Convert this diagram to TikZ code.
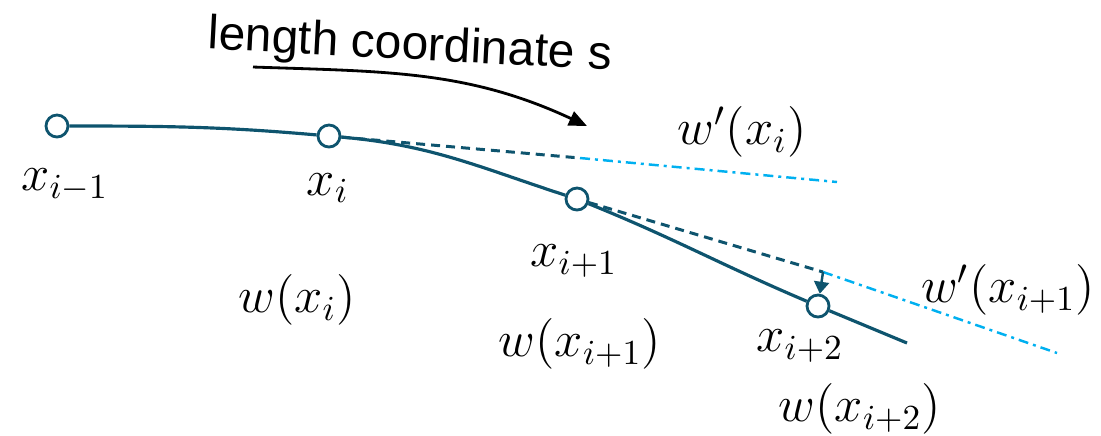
\documentclass[tikz,border=0pt]{standalone}
\usepackage{fontspec}
\setsansfont{Liberation Sans}
\usetikzlibrary{arrows.meta}
\definecolor{beam}{RGB}{14,84,110}
\definecolor{tang}{RGB}{0,176,240}

\begin{document}
\begin{tikzpicture}[x=0.01cm,y=0.01cm,
  gp/.style={circle,draw=beam,fill=white,line width=0.8pt,minimum size=0.22cm,inner sep=0pt},
  lab/.style={font=\fontsize{14.4}{17}\selectfont},
  approx/.style={beam,line width=0.85pt,dash pattern=on 0.09cm off 0.06cm},
  extra/.style={tang,line width=0.7pt,dash pattern=on 0.1cm off 0.05cm on 0.03cm off 0.05cm}]
\useasboundingbox (0,0) rectangle (1101,-435);
% grid points on the deflected beam
\node[gp] (p0) at (57,-126) {};
\node[gp] (p1) at (329,-136) {};
\node[gp] (p2) at (577,-199) {};
\node[gp] (p3) at (818,-306) {};
\coordinate (pend) at (907,-343);
\draw[beam,line width=0.9pt] (p0) to[out=0,in=175] (p1)
  to[out=-5,in=162] (p2) to[out=-22,in=157] (p3) -- (pend);
% tangents (slopes)
\coordinate (t1a) at (580,-158);
\coordinate (t1b) at (837,-182);
\draw[approx] (p1) -- (t1a);
\draw[extra] (t1a) -- (t1b);
\coordinate (t2a) at (823,-272);
\coordinate (t2b) at (1057,-353);
\draw[approx] (p2) -- (t2a);
\draw[extra] (t2a) -- (t2b);
\draw[beam,line width=0.7pt,-{Triangle[length=0.12cm,width=0.15cm]}] (t2a) -- (p3);
% arc length arrow
\coordinate (sa) at (253,-67);
\coordinate (sb) at (587,-126);
\draw[line width=0.8pt,-{Triangle[length=0.18cm,width=0.15cm]}] (sa) to[out=-2,in=155] (sb);
\node[font=\sffamily\fontsize{13.6}{16}\selectfont,rotate=-3] (slab) at (410,-47) {length coordinate s};
% labels
\node[lab] (l0) at (65,-185) {$x_{i-1}$};
\node[lab] (l1) at (328,-188) {$x_i$};
\node[lab] (l2) at (574,-261) {$x_{i+1}$};
\node[lab] (l3) at (800,-346) {$x_{i+2}$};
\node[lab] (w1) at (297,-300) {$w(x_i)$};
\node[lab] (w2) at (580,-344) {$w(x_{i+1})$};
\node[lab] (w3) at (860,-409) {$w(x_{i+2})$};
\node[lab] (d1) at (742,-132) {$w'(x_i)$};
\node[lab] (d2) at (1008,-290) {$w'(x_{i+1})$};
\end{tikzpicture}
\end{document}
